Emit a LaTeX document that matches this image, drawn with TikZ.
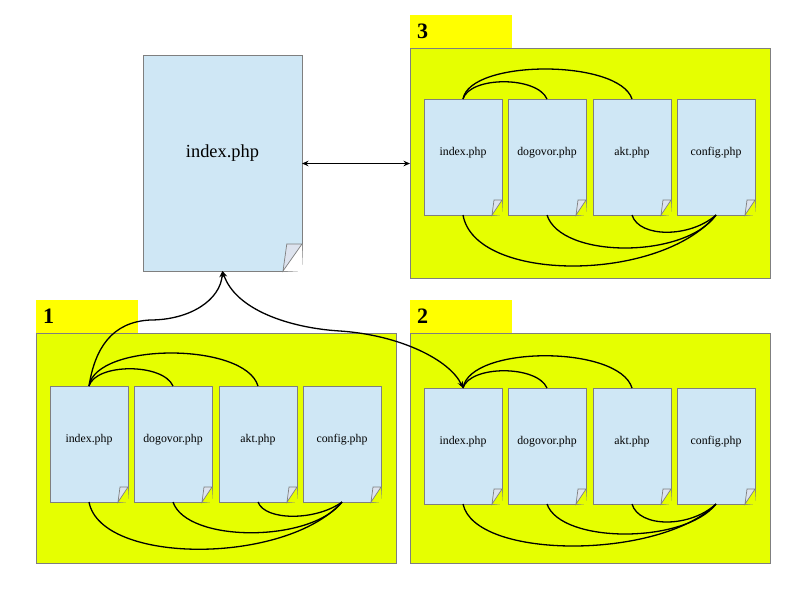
\documentclass[tikz,border=0pt]{standalone}
\usepackage{fontspec}
\setmainfont{Liberation Serif}
\usetikzlibrary{arrows.meta}
\definecolor{panelgreen}{HTML}{E6FF00}
\definecolor{tabyellow}{HTML}{FFFF00}
\definecolor{docblue}{HTML}{CFE7F5}
\definecolor{foldgrey}{HTML}{DDE3EE}
\definecolor{edgegrey}{HTML}{7F7F7F}
% cut corner of a page: name, fold width, fold height, colour behind the page
\newcommand{\pagefold}[4]{%
  \fill[#4] ([xshift=-#2pt]#1.south east) -- ([yshift=#3pt]#1.south east)
    -- ([xshift=1pt,yshift=-1pt]#1.south east) -- cycle;
  \filldraw[draw=edgegrey, fill=foldgrey, line width=0.7pt]
    ([xshift=-#2pt]#1.south east) -- ([yshift=#3pt]#1.south east)
    -- ([xshift=-0.8*#2pt,yshift=#3pt]#1.south east) -- cycle;
}
\begin{document}
\begin{tikzpicture}[
  x=1pt, y=-1pt, >={Stealth[length=6.5pt,width=5.5pt]},
  panel/.style={draw=edgegrey, fill=panelgreen, line width=0.8pt, minimum width=360pt,
                minimum height=230.5pt, inner sep=0pt, outer sep=0pt},
  tabbox/.style={fill=tabyellow, minimum width=102pt, minimum height=33.5pt, inner sep=0pt,
                 outer sep=0pt, font=\fontsize{22}{24}\selectfont\bfseries, align=left,
                 text width=88pt},
  pagebox/.style={draw=edgegrey, fill=docblue, line width=0.8pt, inner sep=0pt, outer sep=0pt},
  smalldoc/.style={pagebox, minimum width=78pt, minimum height=116pt, text height=8pt,
                   text depth=12pt, font=\fontsize{11.8}{13}\selectfont},
  bigdoc/.style={pagebox, minimum width=159pt, minimum height=216pt, text height=13pt,
                 text depth=25pt, font=\fontsize{18.4}{20}\selectfont},
  link/.style={line width=1.3pt},
]
\useasboundingbox (0,0) rectangle (794,595);

\node[bigdoc] (main) at (222.5,163) {index.php};
\pagefold{main}{19}{27}{white}

% last three values: how deep the lower arcs go
\foreach \p/\x/\y/\t/\top/\da/\db/\dc in {1/36/333/53/44/63/41/19, 2/410/333/55/43/56/40/24, 3/410/48/51/40/68/44/23} {
  \node[panel] (panel\p) at (\x+180,\y+115.5) {};
  \node[tabbox] (tab\p) at (\x+51,\y-16.75) {\p};
  \foreach \n/\dx in {index/14, dogovor/98, akt/183, config/267} {
    \node[smalldoc] (\n\p) at (\x+\dx+39,\y+\t+58) {\n.php};
    \pagefold{\n\p}{10}{15}{panelgreen}
  }
  \draw[link] (index\p.north) .. controls +(7,-23) and +(-10,-23) .. (dogovor\p.north);
  \draw[link] (index\p.north) .. controls +(7,-\top) and +(-13,-\top) .. (akt\p.north);
  \draw[link] (index\p.south) .. controls +(12,\da) and +(-56,\da) .. (config\p.south);
  \draw[link] (dogovor\p.south) .. controls +(14,\db) and +(-31,\db) .. (config\p.south);
  \draw[link] (akt\p.south) .. controls +(7,\dc) and +(-26,\dc) .. (config\p.south);
}

\draw[<->, link] (main.east |- panel3.west) -- (panel3.west);
\coordinate (bendleft) at (150,320);
\coordinate (bendright) at (340,331);
\draw[->, link] (index1.north) .. controls +(6,-38) and +(-38,2) .. (bendleft)
  .. controls +(40,0) and +(-2,29) .. (main.south);
\draw[<->, link] (main.south) .. controls +(13,39) and +(-50,-3) .. (bendright)
  .. controls +(60,4) and +(-13,-28) .. (index2.north);
\end{tikzpicture}
\end{document}
